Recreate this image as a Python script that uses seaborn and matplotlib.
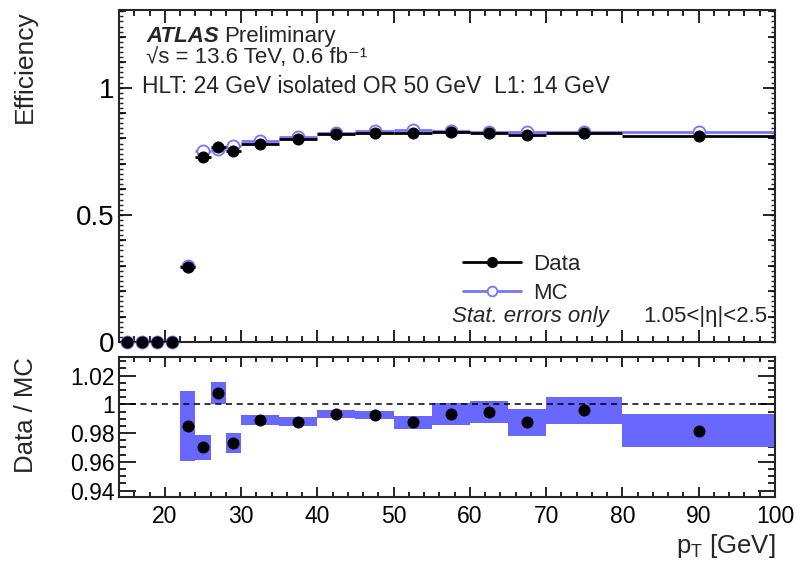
import numpy as np
import pandas as pd
import matplotlib
matplotlib.use("Agg")
import matplotlib.pyplot as plt
from matplotlib.ticker import MultipleLocator, NullFormatter, FuncFormatter
from matplotlib.lines import Line2D
import seaborn as sns

# ---- binned trigger efficiency, muon pT in GeV ----
bin_lo = [14, 16, 18, 20, 22, 24, 26, 28, 30, 35, 40, 45, 50, 55, 60, 65, 70, 80]
bin_hi = [16, 18, 20, 22, 24, 26, 28, 30, 35, 40, 45, 50, 55, 60, 65, 70, 80, 100]
pt_center = [15, 17, 19, 21, 23, 25, 27, 29, 32.5, 37.5, 42.5, 47.5, 52.5, 57.5,
             62.5, 67.5, 75, 90]
eff_data = [0.0, 0.0, 0.0, 0.0, 0.293, 0.727, 0.766, 0.751, 0.780, 0.796, 0.817,
            0.823, 0.822, 0.824, 0.822, 0.815, 0.822, 0.809]
eff_mc = [0.0, 0.0, 0.0, 0.0, 0.297, 0.749, 0.760, 0.772, 0.789, 0.806, 0.822,
          0.829, 0.832, 0.829, 0.826, 0.825, 0.825, 0.824]

# ---- Data / MC ratio (bins from 22 GeV upward) ----
ratio_lo = [22, 24, 26, 28, 30, 35, 40, 45, 50, 55, 60, 65, 70, 80]
ratio_hi = [24, 26, 28, 30, 35, 40, 45, 50, 55, 60, 65, 70, 80, 100]
ratio_center = [23, 25, 27, 29, 32.5, 37.5, 42.5, 47.5, 52.5, 57.5, 62.5, 67.5, 75, 90]
ratio_val = [0.985, 0.970, 1.008, 0.973, 0.989, 0.988, 0.9935, 0.9926, 0.9875,
             0.9935, 0.9947, 0.9875, 0.9958, 0.9817]
ratio_err = [0.0244, 0.0086, 0.0075, 0.0068, 0.0035, 0.0033, 0.0028, 0.0029,
             0.0044, 0.0078, 0.0077, 0.0095, 0.0092, 0.0116]

eff = pd.DataFrame({"pt": pt_center, "lo": bin_lo, "hi": bin_hi,
                    "data": eff_data, "mc": eff_mc})
rat = pd.DataFrame({"pt": ratio_center, "lo": ratio_lo, "hi": ratio_hi,
                    "r": ratio_val, "err": ratio_err})

sns.set_theme(style="ticks")
plt.rcParams["font.family"] = ["Liberation Sans", "DejaVu Sans"]
plt.rcParams["mathtext.fontset"] = "custom"
plt.rcParams["mathtext.rm"] = "Liberation Sans"
plt.rcParams["mathtext.it"] = "Liberation Sans:italic"
plt.rcParams["mathtext.bf"] = "Liberation Sans:bold"

MC_LINE = "#7474ff"
BAND = "#6868ff"

W, H = 797, 569
fig = plt.figure(figsize=(W / 100, H / 100), dpi=100)
L, R = 119, 775
ax = fig.add_axes([L / W, 1 - 342 / H, (R - L) / W, (342 - 10) / H])
axr = fig.add_axes([L / W, 1 - 497 / H, (R - L) / W, (497 - 357) / H])

# ---------------- efficiency panel ----------------
ax.hlines(eff["mc"], eff["lo"], eff["hi"], color=MC_LINE, lw=2.0, zorder=2)
sns.scatterplot(data=eff, x="pt", y="mc", ax=ax, marker="o", s=75,
                facecolor="white", edgecolor=MC_LINE, linewidth=1.3,
                zorder=3, clip_on=False)
ax.hlines(eff["data"], eff["lo"], eff["hi"], color="black", lw=2.0, zorder=4)
sns.scatterplot(data=eff, x="pt", y="data", ax=ax, marker="o", s=75,
                color="black", edgecolor="black", linewidth=0,
                zorder=5, clip_on=False)

ax.set_xlim(14, 100)
ax.set_ylim(0, 1.305)
ax.set_xlabel("")
ax.set_ylabel("")
ax.yaxis.set_major_locator(MultipleLocator(0.5))
ax.yaxis.set_minor_locator(MultipleLocator(0.1))
ax.xaxis.set_major_locator(MultipleLocator(10))
ax.xaxis.set_minor_locator(MultipleLocator(2))
ax.xaxis.set_major_formatter(NullFormatter())
ax.yaxis.set_major_formatter(FuncFormatter(lambda v, p: f"{v:g}"))
ax.tick_params(axis="both", which="both", direction="in", top=True, right=True,
               width=1.2, colors="black")
ax.tick_params(axis="y", which="major", length=9, labelsize=20, pad=3)
ax.tick_params(axis="y", which="minor", length=5)
ax.tick_params(axis="x", which="major", length=9)
ax.tick_params(axis="x", which="minor", length=4.5)
# finest ticks on the efficiency axis
for side in ("left", "right"):
    sec = ax.secondary_yaxis(side)
    sec.yaxis.set_major_locator(MultipleLocator(0.02))
    sec.yaxis.set_major_formatter(NullFormatter())
    sec.tick_params(direction="in", length=3, width=1.0)
    sec.spines[side].set_visible(False)

for s in ax.spines.values():
    s.set_linewidth(1.5)
    s.set_visible(True)

atlas = ax.text(0.0412, 0.9036, "ATLAS", transform=ax.transAxes,
                fontsize=16, va="baseline", ha="left", fontweight="bold",
                fontstyle="italic")
ax.annotate("Preliminary", xy=(1, 0), xycoords=atlas, xytext=(5, 0),
            textcoords="offset pixels", fontsize=16, va="bottom", ha="left")
ax.text(0.0412, 0.8395, "√s = 13.6 TeV, 0.6 fb⁻¹", transform=ax.transAxes,
        fontsize=16, va="baseline", ha="left")
ax.text(0.035, 0.7509, "HLT: 24 GeV isolated OR 50 GeV  L1: 14 GeV",
        transform=ax.transAxes, fontsize=16.5, va="baseline", ha="left")

handles = [
    Line2D([], [], color="black", lw=2.0, marker="o", markersize=7,
           markerfacecolor="black", markeredgecolor="black"),
    Line2D([], [], color=MC_LINE, lw=2.0, marker="o", markersize=7,
           markerfacecolor="white", markeredgecolor=MC_LINE, markeredgewidth=1.3),
]
ax.legend(handles, ["Data", "MC"], loc="upper left",
          bbox_to_anchor=((463 - L) / (R - L), 1 - (254 - 10) / 332),
          frameon=False, fontsize=16, handlelength=2.6, handletextpad=0.55,
          labelspacing=0.36, borderpad=0, borderaxespad=0)
ax.text(0.5076, 0.0602, "Stat. errors only", transform=ax.transAxes,
        fontsize=16, style="italic", va="baseline", ha="left")
ax.text(0.9878, 0.0602, "1.05<|η|<2.5", transform=ax.transAxes,
        fontsize=16, va="baseline", ha="right")

# ---------------- ratio panel ----------------
axr.bar(rat["lo"], 2 * rat["err"], width=rat["hi"] - rat["lo"],
        bottom=rat["r"] - rat["err"], align="edge", color=BAND,
        edgecolor="none", zorder=1)
axr.axhline(1.0, color="black", lw=1.1, ls=(0, (4, 3)), zorder=2)
sns.scatterplot(data=rat, x="pt", y="r", ax=axr, marker="o", s=75,
                color="black", edgecolor="black", linewidth=0, zorder=3)

axr.set_xlim(14, 100)
axr.set_ylim(0.9355, 1.033)
axr.set_xlabel("")
axr.set_ylabel("")
axr.yaxis.set_major_locator(MultipleLocator(0.02))
axr.yaxis.set_minor_locator(MultipleLocator(0.005))
axr.xaxis.set_major_locator(MultipleLocator(10))
axr.xaxis.set_minor_locator(MultipleLocator(2))
axr.yaxis.set_major_formatter(FuncFormatter(
    lambda v, p: "1" if abs(v - 1) < 1e-9 else f"{v:.2f}"))
axr.tick_params(axis="both", which="both", direction="in", top=True, right=True,
                width=1.2, colors="black")
axr.tick_params(axis="y", which="major", length=12, labelsize=16.5, pad=3)
axr.tick_params(axis="y", which="minor", length=5)
axr.tick_params(axis="x", which="major", length=7, labelsize=16.5, pad=6)
axr.tick_params(axis="x", which="minor", length=3.5)
for s in axr.spines.values():
    s.set_linewidth(1.5)
    s.set_visible(True)

fig.text(25 / W, 1 - 10 / H, "Efficiency", rotation=90, ha="center", va="top",
         fontsize=19)
fig.text(26 / W, 1 - 357 / H, "Data / MC", rotation=90, ha="center", va="top",
         fontsize=18.5)
fig.text(R / W, 1 - 553 / H, r"p$_{\mathrm{T}}$ [GeV]", ha="right",
         va="baseline", fontsize=18.5)

fig.savefig("out.png", dpi=100)
